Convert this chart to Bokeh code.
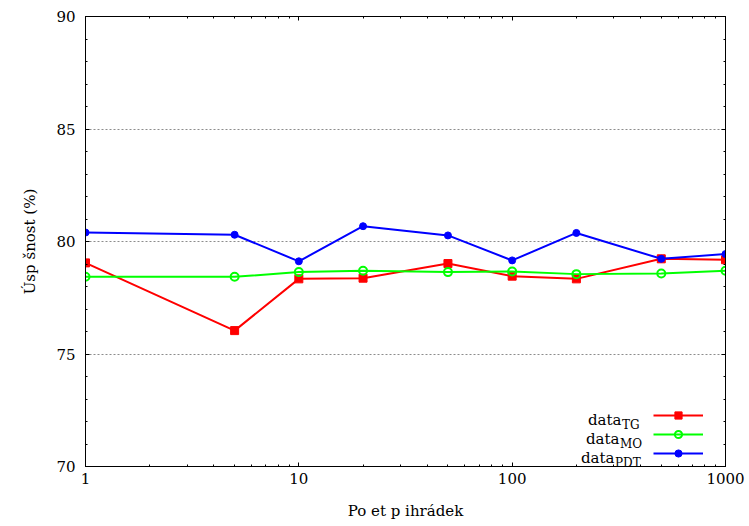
from bokeh.plotting import figure
from bokeh.models import (FixedTicker, LinearAxis, LogAxis, Legend, LegendItem,
                          Label, Range1d, CustomJSTickFormatter)
from bokeh.embed import file_html
from bokeh.resources import INLINE

# ---- data ----
x_vals = [1, 5, 10, 20, 50, 100, 200, 500, 1000]
tg = [79.05, 76.04, 78.34, 78.37, 79.02, 78.46, 78.34, 79.23, 79.19]
mo = [78.43, 78.43, 78.64, 78.70, 78.64, 78.67, 78.55, 78.58, 78.70]
pdt = [80.40, 80.30, 79.12, 80.68, 80.27, 79.16, 80.38, 79.23, 79.44]
series_subs = ["TG", "MO", "PDT"]
x_ticks = [1, 10, 100, 1000]
x_tick_labels = ["1", "10", "100", "1000"]
x_minor = [2, 3, 4, 5, 6, 7, 8, 9, 20, 30, 40, 50, 60, 70, 80, 90,
           200, 300, 400, 500, 600, 700, 800, 900]
y_ticks = [70, 75, 80, 85, 90]
y_minor = list(range(70, 91))
x_label = "Po et p ihrádek"
y_label = "Úsp šnost (%)"

FONT = "DejaVu Serif"

p = figure(width=749, height=526, x_axis_type="log",
           x_range=Range1d(1, 1000), y_range=Range1d(70, 90),
           output_backend="svg", toolbar_location=None,
           min_border_left=85, min_border_right=24,
           min_border_top=16, min_border_bottom=60,
           x_axis_label=x_label, y_axis_label=y_label)

p.outline_line_color = "black"
p.outline_line_width = 1
p.background_fill_color = "white"
p.border_fill_color = "white"

xt = FixedTicker(ticks=x_ticks, minor_ticks=x_minor)
yt = FixedTicker(ticks=y_ticks, minor_ticks=y_minor)


def style(ax):
    ax.major_tick_in = 4
    ax.major_tick_out = 0
    ax.minor_tick_in = 2
    ax.minor_tick_out = 0
    ax.axis_line_color = "black"
    ax.major_tick_line_color = "black"
    ax.minor_tick_line_color = "black"
    ax.major_label_text_font = FONT
    ax.major_label_text_font_size = "15px"
    ax.major_label_text_color = "black"
    ax.axis_label_text_font = FONT
    ax.axis_label_text_font_size = "15px"
    ax.axis_label_text_font_style = "normal"
    ax.axis_label_text_color = "black"


xa = p.xaxis[0]
xa.ticker = xt
xa.major_label_overrides = {t: l for t, l in zip(x_ticks, x_tick_labels)}
style(xa)
xa.major_label_standoff = 6
xa.axis_label_standoff = 15

ya = p.yaxis[0]
ya.ticker = yt
style(ya)
ya.major_label_standoff = 10
ya.axis_label_standoff = 14

empty = CustomJSTickFormatter(code="return ''")
ra = LinearAxis(ticker=yt, formatter=empty)
style(ra)
ra.major_label_text_font_size = "1px"
ra.major_label_standoff = 0
p.add_layout(ra, "right")

ta = LogAxis(ticker=xt, formatter=empty)
style(ta)
ta.major_label_text_font_size = "1px"
ta.major_label_standoff = 0
p.add_layout(ta, "above")

p.xgrid.visible = False
p.ygrid.ticker = yt
p.ygrid.grid_line_color = "#8c8c8c"
p.ygrid.grid_line_dash = "2 2"
p.ygrid.grid_line_width = 1

l1 = p.line(x_vals, tg, line_color="#ff0000", line_width=2)
s1 = p.scatter(x_vals, tg, marker="square", size=8, fill_color="#ff0000",
               line_color="#ff0000")
l2 = p.line(x_vals, mo, line_color="#00ff00", line_width=2)
s2 = p.scatter(x_vals, mo, marker="circle", size=8, fill_color=None,
               line_color="#00ff00", line_width=2)
l3 = p.line(x_vals, pdt, line_color="#0000ff", line_width=2)
s3 = p.scatter(x_vals, pdt, marker="circle", size=7, fill_color="#0000ff",
               line_color="#0000ff")

items = [LegendItem(label=" ", renderers=[l1, s1]),
         LegendItem(label=" ", renderers=[l2, s2]),
         LegendItem(label=" ", renderers=[l3, s3])]
leg = Legend(items=items, location=(568, 4), glyph_width=50, glyph_height=18,
             spacing=1, padding=0, margin=0, label_standoff=0, label_width=0,
             label_height=18, label_text_font_size="1px",
             border_line_color=None, background_fill_alpha=0)
p.add_layout(leg)

# legend text (data + subscript), right aligned before the samples
row_centers = [51, 32, 13]
data_right = [536, 534, 529]
for sub, yc, dr in zip(series_subs, row_centers, data_right):
    p.add_layout(Label(x=dr, y=yc - 4, x_units="screen", y_units="screen",
                       text="data", text_align="right",
                       text_baseline="alphabetic", text_font=FONT,
                       text_font_size="15px", text_color="black"))
    p.add_layout(Label(x=dr + 0.5, y=yc - 9, x_units="screen", y_units="screen",
                       text=sub, text_align="left",
                       text_baseline="alphabetic", text_font=FONT,
                       text_font_size="12px", text_color="black"))

open("out.html", "w").write(file_html(p, INLINE))
